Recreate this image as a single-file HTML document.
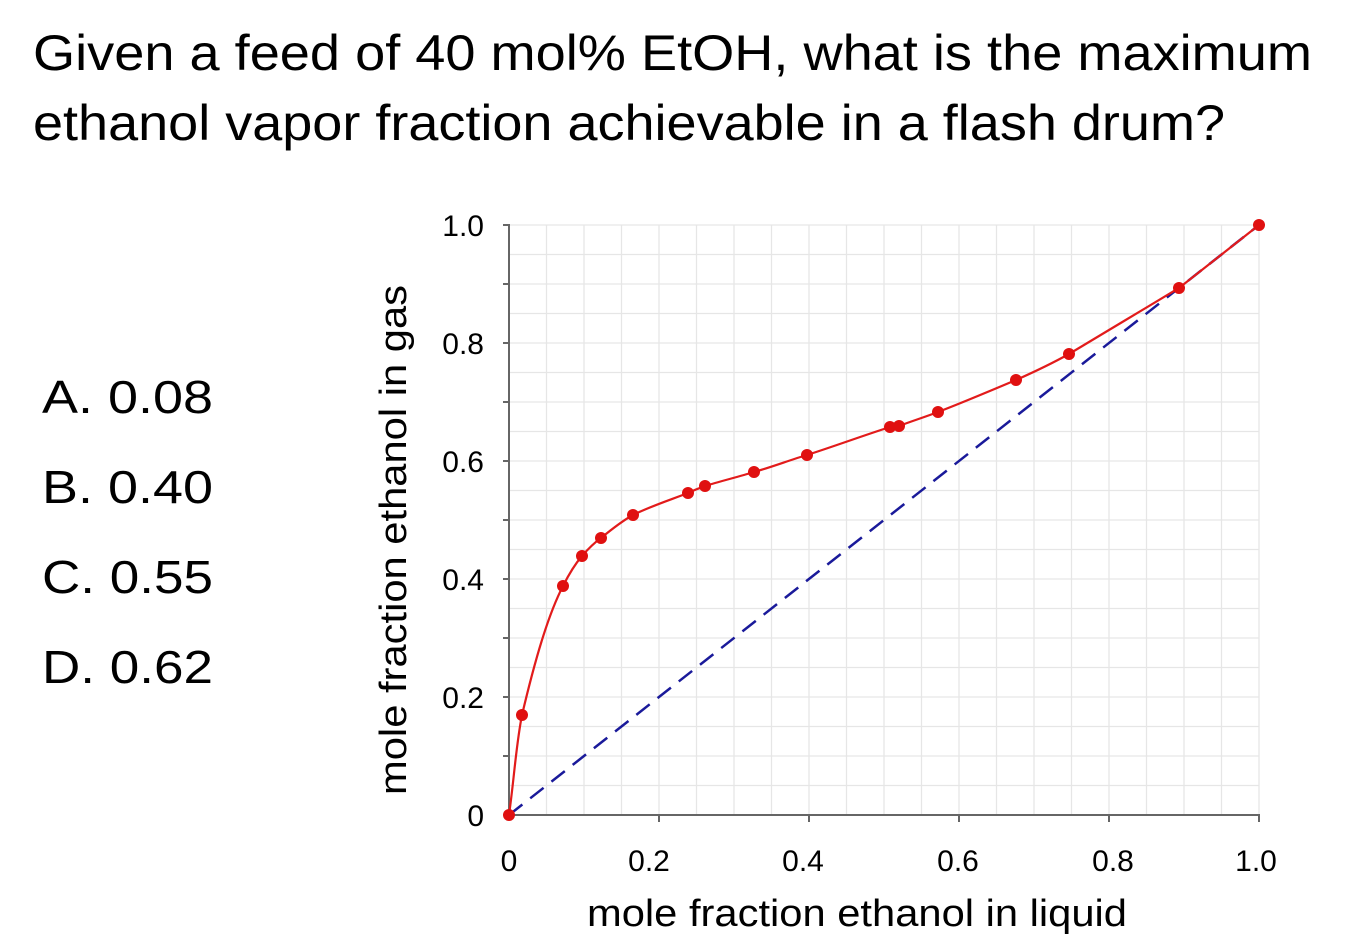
<!DOCTYPE html>
<html><head><meta charset="utf-8"><style>
html,body{margin:0;padding:0;background:#fff;}
body{width:1362px;height:947px;overflow:hidden;}
svg text{font-family:"Liberation Sans",Arial,sans-serif;}
</style></head><body>
<svg width="1362" height="947" viewBox="0 0 1362 947" xmlns="http://www.w3.org/2000/svg">
<text x="33" y="70" font-size="50" fill="#000" textLength="1279" lengthAdjust="spacingAndGlyphs">Given a feed of 40 mol% EtOH, what is the maximum</text>
<text x="33" y="140" font-size="50" fill="#000" textLength="1192" lengthAdjust="spacingAndGlyphs">ethanol vapor fraction achievable in a flash drum?</text>
<g font-size="46" fill="#000">
<text x="42" y="413" textLength="171" lengthAdjust="spacingAndGlyphs">A.  0.08</text>
<text x="42" y="503" textLength="171" lengthAdjust="spacingAndGlyphs">B.  0.40</text>
<text x="42" y="593" textLength="171" lengthAdjust="spacingAndGlyphs">C.  0.55</text>
<text x="42" y="683" textLength="171" lengthAdjust="spacingAndGlyphs">D.  0.62</text>
</g>
<g stroke="#e6e6e6" stroke-width="1.3">
<line x1="546.5" y1="225" x2="546.5" y2="815"/><line x1="584" y1="225" x2="584" y2="815"/><line x1="621.5" y1="225" x2="621.5" y2="815"/><line x1="659" y1="225" x2="659" y2="815"/><line x1="696.5" y1="225" x2="696.5" y2="815"/><line x1="734" y1="225" x2="734" y2="815"/><line x1="771.5" y1="225" x2="771.5" y2="815"/><line x1="809" y1="225" x2="809" y2="815"/><line x1="846.5" y1="225" x2="846.5" y2="815"/><line x1="884" y1="225" x2="884" y2="815"/><line x1="921.5" y1="225" x2="921.5" y2="815"/><line x1="959" y1="225" x2="959" y2="815"/><line x1="996.5" y1="225" x2="996.5" y2="815"/><line x1="1034" y1="225" x2="1034" y2="815"/><line x1="1071.5" y1="225" x2="1071.5" y2="815"/><line x1="1109" y1="225" x2="1109" y2="815"/><line x1="1146.5" y1="225" x2="1146.5" y2="815"/><line x1="1184" y1="225" x2="1184" y2="815"/><line x1="1221.5" y1="225" x2="1221.5" y2="815"/><line x1="1259" y1="225" x2="1259" y2="815"/>
<line x1="509" y1="225" x2="1259" y2="225"/><line x1="509" y1="254.5" x2="1259" y2="254.5"/><line x1="509" y1="284" x2="1259" y2="284"/><line x1="509" y1="313.5" x2="1259" y2="313.5"/><line x1="509" y1="343" x2="1259" y2="343"/><line x1="509" y1="372.5" x2="1259" y2="372.5"/><line x1="509" y1="402" x2="1259" y2="402"/><line x1="509" y1="431.5" x2="1259" y2="431.5"/><line x1="509" y1="461" x2="1259" y2="461"/><line x1="509" y1="490.5" x2="1259" y2="490.5"/><line x1="509" y1="520" x2="1259" y2="520"/><line x1="509" y1="549.5" x2="1259" y2="549.5"/><line x1="509" y1="579" x2="1259" y2="579"/><line x1="509" y1="608.5" x2="1259" y2="608.5"/><line x1="509" y1="638" x2="1259" y2="638"/><line x1="509" y1="667.5" x2="1259" y2="667.5"/><line x1="509" y1="697" x2="1259" y2="697"/><line x1="509" y1="726.5" x2="1259" y2="726.5"/><line x1="509" y1="756" x2="1259" y2="756"/><line x1="509" y1="785.5" x2="1259" y2="785.5"/>
</g>
<g stroke="#666" stroke-width="2">
<line x1="509" y1="224" x2="509" y2="816"/><line x1="508" y1="815" x2="1260" y2="815"/>
<line x1="503" y1="225" x2="509" y2="225"/><line x1="503" y1="284" x2="509" y2="284"/><line x1="503" y1="343" x2="509" y2="343"/><line x1="503" y1="402" x2="509" y2="402"/><line x1="503" y1="461" x2="509" y2="461"/><line x1="503" y1="520" x2="509" y2="520"/><line x1="503" y1="579" x2="509" y2="579"/><line x1="503" y1="638" x2="509" y2="638"/><line x1="503" y1="697" x2="509" y2="697"/><line x1="503" y1="756" x2="509" y2="756"/>
<line x1="659" y1="815" x2="659" y2="822"/><line x1="809" y1="815" x2="809" y2="822"/><line x1="959" y1="815" x2="959" y2="822"/><line x1="1109" y1="815" x2="1109" y2="822"/><line x1="1259" y1="815" x2="1259" y2="822"/>
</g>
<g font-size="30" fill="#000" text-anchor="end">
<text x="484" y="236">1.0</text><text x="484" y="354">0.8</text><text x="484" y="472">0.6</text><text x="484" y="590">0.4</text><text x="484" y="708">0.2</text><text x="484" y="826">0</text>
</g>
<g font-size="30" fill="#000" text-anchor="middle">
<text x="509" y="871">0</text><text x="649" y="871">0.2</text><text x="803" y="871">0.4</text><text x="958" y="871">0.6</text><text x="1113" y="871">0.8</text><text x="1256" y="871">1.0</text>
</g>
<text x="587" y="926" font-size="38" textLength="540" lengthAdjust="spacingAndGlyphs">mole fraction ethanol in liquid</text>
<text transform="translate(406,795) rotate(-90)" font-size="38" textLength="510" lengthAdjust="spacingAndGlyphs">mole fraction ethanol in gas</text>
<line x1="509" y1="815" x2="1259" y2="225" stroke="#1a1a9a" stroke-width="2.5" stroke-dasharray="17,10"/>
<path d="M509,815 C514,780 516,745 522,715 C535,660 548,615 563,586 C570,572 576,563 582,556 C588,549 594,543 601,538 C612,529 622,521 633,515 C651,506 670,500 688,493 C694,490 700,488 705,486 C721,481 738,477 754,472 C772,467 790,460 807,455 C835,446 862,436 890,427 L899,426 C912,421 925,417 938,412 C964,402 990,391 1016,380 C1034,372 1051,364 1069,354 C1106,332 1142,310 1179,288 C1206,267 1232,246 1259,225" fill="none" stroke="#e21b1b" stroke-width="2.2"/>
<g fill="#e01010">
<circle cx="509" cy="815" r="6"/><circle cx="522" cy="715" r="6"/><circle cx="563" cy="586" r="6"/><circle cx="582" cy="556" r="6"/><circle cx="601" cy="538" r="6"/><circle cx="633" cy="515" r="6"/><circle cx="688" cy="493" r="6"/><circle cx="705" cy="486" r="6"/><circle cx="754" cy="472" r="6"/><circle cx="807" cy="455" r="6"/><circle cx="890" cy="427" r="6"/><circle cx="899" cy="426" r="6"/><circle cx="938" cy="412" r="6"/><circle cx="1016" cy="380" r="6"/><circle cx="1069" cy="354" r="6"/><circle cx="1179" cy="288" r="6"/><circle cx="1259" cy="225" r="6"/>
</g>
</svg>
</body></html>
